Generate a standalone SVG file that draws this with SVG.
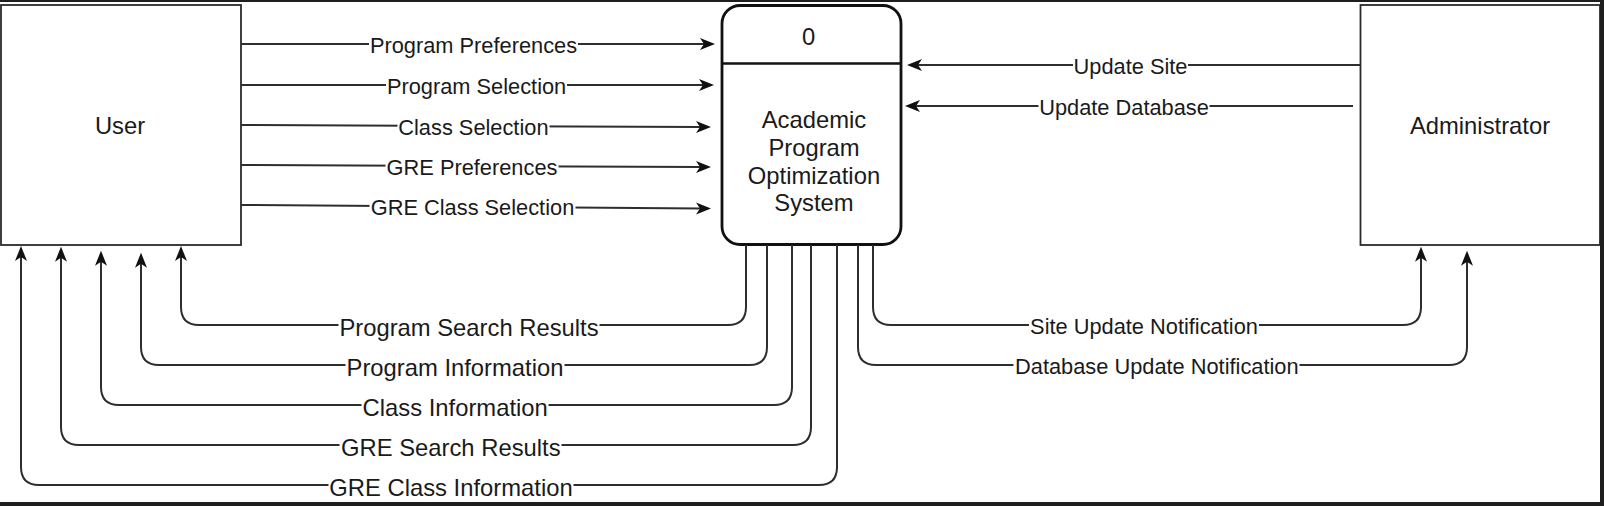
<svg xmlns="http://www.w3.org/2000/svg" width="1604" height="506" viewBox="0 0 1604 506">
  <style>
    .box { fill: #ffffff; stroke: #2b2b2b; stroke-width: 1.8; }
    .proc { fill: #ffffff; stroke: #111111; stroke-width: 2.8; }
    .edge { fill: none; stroke: #2e2e2e; stroke-width: 2; marker-end: url(#arrow); }
    .lbg { fill: #ffffff; stroke: none; }
    text { font-family: "Liberation Sans", Arial, Helvetica, sans-serif; fill: #1a1a1a; text-anchor: middle; }
    .t22 { font-size: 21.8px; }
    .t24 { font-size: 23.8px; }
  </style>
  <defs>
    <marker id="arrow" viewBox="0 0 15 13" refX="5" refY="6.5" markerWidth="15" markerHeight="13" orient="auto" markerUnits="userSpaceOnUse">
      <path d="M0,0.5 L15,6.5 L0,12.5 L4,6.5 Z" fill="#111111"/>
    </marker>
  </defs>

  <rect x="0" y="0" width="1604" height="506" fill="#ffffff"/>

  <g id="user">
    <rect class="box" x="1" y="5" width="240" height="240"/>
    <text class="t24" x="120" y="134">User</text>
  </g>

  <g id="process">
    <rect class="proc" x="722" y="5.5" width="179" height="239" rx="18" ry="18"/>
    <line x1="722" y1="63.5" x2="901" y2="63.5" stroke="#111111" stroke-width="2.6"/>
    <text class="t24" x="808.5" y="45">0</text>
    <text class="t24" x="814" y="128">Academic</text>
    <text class="t24" x="814" y="156">Program</text>
    <text class="t24" x="814" y="183.5">Optimization</text>
    <text class="t24" x="814" y="211">System</text>
  </g>

  <g id="administrator">
    <rect class="box" x="1360.5" y="5" width="239.5" height="240"/>
    <text class="t24" x="1480" y="134">Administrator</text>
  </g>

  <g id="connectors">
    <g id="e-program-preferences">
      <path class="edge" d="M241,44 L705,44"/>
      <rect class="lbg" x="369" y="34" width="209" height="20"/>
      <text class="t22" x="473.5" y="52.5">Program Preferences</text>
    </g>
    <g id="e-program-selection">
      <path class="edge" d="M241,85 L704,85"/>
      <rect class="lbg" x="386" y="75" width="181" height="20"/>
      <text class="t22" x="476.6" y="93.5">Program Selection</text>
    </g>
    <g id="e-class-selection">
      <path class="edge" d="M241,125 L701,127"/>
      <rect class="lbg" x="397.5" y="116" width="152" height="20"/>
      <text class="t22" x="473.4" y="134.5">Class Selection</text>
    </g>
    <g id="e-gre-preferences">
      <path class="edge" d="M241,165 L701,167"/>
      <rect class="lbg" x="385.5" y="156" width="173" height="20"/>
      <text class="t22" x="472" y="174.5">GRE Preferences</text>
    </g>
    <g id="e-gre-class-selection">
      <path class="edge" d="M241,205 L701,208.5"/>
      <rect class="lbg" x="369.5" y="196.5" width="206" height="20"/>
      <text class="t22" x="472.5" y="215">GRE Class Selection</text>
    </g>

    <g id="e-update-site">
      <path class="edge" d="M1360,65 L917,65"/>
      <rect class="lbg" x="1073" y="55" width="115" height="20"/>
      <text class="t22" x="1130.5" y="73.5">Update Site</text>
    </g>
    <g id="e-update-database">
      <path class="edge" d="M1353,106 L915,106"/>
      <rect class="lbg" x="1038.5" y="96" width="171" height="20"/>
      <text class="t22" x="1124" y="114.5">Update Database</text>
    </g>

    <g id="e-program-search-results">
      <path class="edge" d="M746,245 L746,307 Q746,325 728,325 L199,325 Q181,325 181,307 L181,256"/>
      <rect class="lbg" x="338.5" y="314" width="261" height="22"/>
      <text class="t24" x="469" y="335.5">Program Search Results</text>
    </g>
    <g id="e-program-information">
      <path class="edge" d="M767,245 L767,347 Q767,365 749,365 L159,365 Q141,365 141,347 L141,262.7"/>
      <rect class="lbg" x="345.5" y="354" width="219" height="22"/>
      <text class="t24" x="455" y="375.5">Program Information</text>
    </g>
    <g id="e-class-information">
      <path class="edge" d="M792,245 L792,387 Q792,405 774,405 L119,405 Q101,405 101,387 L101,260.7"/>
      <rect class="lbg" x="361.5" y="394" width="187" height="22"/>
      <text class="t24" x="455.2" y="415.5">Class Information</text>
    </g>
    <g id="e-gre-search-results">
      <path class="edge" d="M811,245 L811,427 Q811,445 793,445 L79,445 Q61,445 61,427 L61,256.7"/>
      <rect class="lbg" x="339.5" y="434" width="222" height="22"/>
      <text class="t24" x="450.8" y="455.5">GRE Search Results</text>
    </g>
    <g id="e-gre-class-information">
      <path class="edge" d="M837,245 L837,467 Q837,485 819,485 L39,485 Q21,485 21,467 L21,256"/>
      <rect class="lbg" x="328.5" y="474" width="245" height="22"/>
      <text class="t24" x="451" y="495.5">GRE Class Information</text>
    </g>

    <g id="e-site-update-notification">
      <path class="edge" d="M873,245 L873,307 Q873,325 891,325 L1403,325 Q1421,325 1421,307 L1421,256.7"/>
      <rect class="lbg" x="1029" y="315" width="230" height="20"/>
      <text class="t22" x="1144" y="333.5">Site Update Notification</text>
    </g>
    <g id="e-database-update-notification">
      <path class="edge" d="M858,245 L858,347 Q858,365 876,365 L1449,365 Q1467,365 1467,347 L1467,260.7"/>
      <rect class="lbg" x="1013.5" y="355" width="286" height="20"/>
      <text class="t22" x="1156.8" y="373.5">Database Update Notification</text>
    </g>
  </g>

  <g id="frame" fill="#1e1e1e">
    <rect x="0" y="0" width="1604" height="2"/>
    <rect x="1600" y="0" width="4" height="506"/>
    <rect x="0" y="502" width="1604" height="4"/>
  </g>
</svg>
